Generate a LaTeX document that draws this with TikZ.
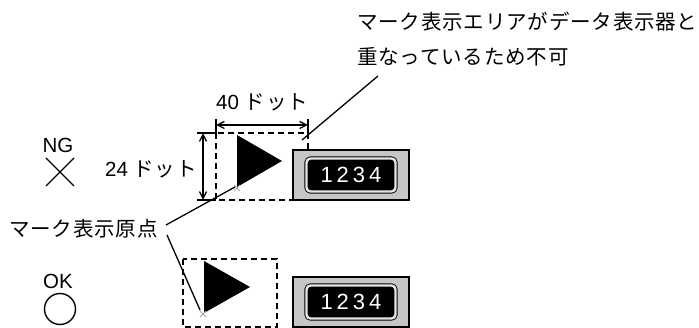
\documentclass[tikz,border=0pt]{standalone}
\usepackage{fontspec}
\setmainfont{Liberation Sans}
\newfontfamily\jpfont[LetterSpace=4]{Noto Sans CJK JP}
\usetikzlibrary{arrows.meta,positioning,calc}

\begin{document}
\begin{tikzpicture}[
    x=1pt, y=-1pt,
    txt/.style={inner sep=0pt, font=\fontsize{20.5}{24}\selectfont},
    thinline/.style={line width=1.3pt},
    dimarrow/.style={{Straight Barb[length=7pt,width=7pt]}-{Straight Barb[length=7pt,width=7pt]}, line width=1.3pt},
    areabox/.style={draw, line width=1.3pt, dash pattern=on 6pt off 4pt},
    flagmark/.style={fill=black},
    originx/.style={draw=gray!70, line width=1pt},
    dispouter/.style={rectangle, draw=black, fill=gray!45, line width=1.1pt, minimum width=116pt, minimum height=50pt, inner sep=0pt},
    dispinner/.style={rectangle, rounded corners=4pt, draw=black, double=gray!20, double distance=2.4pt, fill=black, line width=0.9pt, minimum width=89pt, minimum height=33pt, inner sep=0pt, text=white, font=\fontsize{22}{26}\selectfont}
]
    \useasboundingbox (0,0) rectangle (699,328);

    % texts
    \node [txt, anchor=west] (warn1) at (357,22) {\jpfont マーク表示エリアがデータ表示器と};
    \node [txt, anchor=west] (warn2) at (357,57) {\jpfont 重なっているため不可};
    \node [txt, anchor=west] (orglbl) at (9,229) {\jpfont マーク表示原点};
    \node [txt] (nglbl) at (58,145) {NG};
    \node [txt] (oklbl) at (58,281) {OK};

    % NG / OK symbols
    \draw [line width=1.4pt] (46,158) -- (74,186) (74,158) -- (46,186);
    \node [circle, draw, line width=1.4pt, minimum size=31pt, inner sep=0pt] (okcirc) at (60,309) {};

    % NG case
    \draw [areabox] (216,133) rectangle (308,200);
    \fill [flagmark] (237,135) -- (282,161) -- (237,187) -- cycle;
    \coordinate (ngorg) at (237,188);
    \draw [originx] ($(ngorg)+(-3,-3)$) -- ++(6,6) ($(ngorg)+(3,-3)$) -- ++(-6,6);
    \node [dispouter] (ngdisp) at (351,175) {};
    \node [dispinner] (ngnum) at (ngdisp) {1\hspace{4pt}2\hspace{4pt}3\hspace{4pt}4};

    % dimensions
    \coordinate (wl) at (216,125);
    \coordinate (wr) at (308,125);
    \draw [thinline] (216,119) -- (216,133) (308,119) -- (308,133);
    \draw [dimarrow] (wl) -- (wr);
    \node [txt, anchor=south] (wlbl) at (262,111) {40 \jpfont ドット};
    \coordinate (ht) at (203,133);
    \coordinate (hb) at (203,200);
    \draw [thinline] (197,133) -- (216,133) (197,200) -- (216,200);
    \draw [dimarrow] (ht) -- (hb);
    \node [txt, anchor=east] (hlbl) at (197,169) {24 \jpfont ドット};

    % OK case
    \draw [areabox] (183,259) rectangle (277,327);
    \fill [flagmark] (204,261) -- (250,287) -- (204,313) -- cycle;
    \coordinate (okorg) at (203,314);
    \draw [originx] ($(okorg)+(-3,-3)$) -- ++(6,6) ($(okorg)+(3,-3)$) -- ++(-6,6);
    \node [dispouter] (okdisp) at (351,302) {};
    \node [dispinner] (oknum) at (okdisp) {1\hspace{4pt}2\hspace{4pt}3\hspace{4pt}4};

    % leaders
    \coordinate (warnend) at (302,140);
    \draw [thinline] (378,76) -- (warnend);
    \draw [thinline] (166,225) -- ($(ngorg)+(-2,-1)$);
    \draw [thinline] (167,235) -- ($(okorg)+(-3,-4)$);
\end{tikzpicture}
\end{document}
